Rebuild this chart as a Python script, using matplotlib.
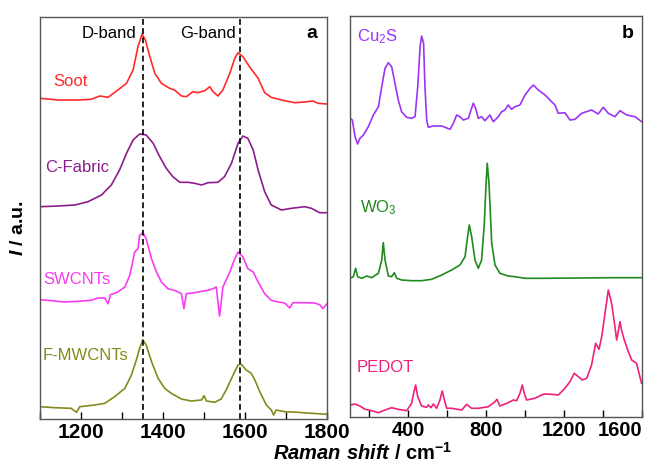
import matplotlib
matplotlib.use('agg')
import matplotlib.pyplot as plt
from matplotlib.ticker import MultipleLocator

plt.rcParams['font.family'] = ['Liberation Sans', 'DejaVu Sans']
plt.rcParams['mathtext.fontset'] = 'custom'
plt.rcParams['mathtext.rm'] = 'Liberation Sans'
plt.rcParams['mathtext.it'] = 'Liberation Sans:italic:bold'
plt.rcParams['mathtext.bf'] = 'Liberation Sans:bold'

# ---- panel a: carbon materials (intensity already stacked, a.u.) ----
soot_x = [1100, 1144, 1193, 1225, 1246, 1266, 1290, 1311, 1327, 1339, 1349, 1357, 1368,
          1380, 1396, 1416, 1428, 1445, 1457, 1473, 1485, 1502, 1514, 1522, 1534, 1546,
          1563, 1575, 1583, 1595, 1611, 1632, 1648, 1664, 1689, 1721, 1746, 1766, 1778, 1800]
soot_y = [320.7, 319, 319, 319.7, 323, 321.7, 329, 335.7, 349, 372.3, 385, 379, 362.3,
          345.7, 335.7, 330.7, 329, 323, 322.3, 327.3, 326.3, 328.3, 332.3, 327.3, 323, 329,
          345.7, 360.7, 366.3, 362.3, 352.3, 340.7, 326.3, 321.7, 319, 316.3, 317, 318, 315.7, 315]

cfab_x = [1100, 1144, 1185, 1217, 1250, 1274, 1294, 1311, 1327, 1343, 1359, 1376, 1392,
          1408, 1424, 1441, 1461, 1477, 1494, 1510, 1534, 1550, 1567, 1583, 1595, 1607,
          1620, 1632, 1648, 1664, 1689, 1713, 1746, 1762, 1782, 1800]
cfab_y = [212.3, 213, 214, 217.3, 224, 234, 249, 265.7, 279, 285, 284, 275.7, 262.3,
          250.7, 242.3, 236.7, 236.7, 235.7, 234, 236.3, 236.7, 242.3, 255.7, 275.7, 283, 280.7,
          269, 249, 227.3, 214, 209, 210.7, 212.3, 210.7, 206.3, 206.3]

swcnt_x = [1100, 1128, 1160, 1193, 1225, 1241, 1258, 1266, 1272, 1290, 1307, 1319, 1331,
           1339, 1343, 1351, 1359, 1372, 1384, 1396, 1412, 1428, 1445, 1451, 1457, 1477,
           1494, 1510, 1522, 1530, 1534, 1538, 1542, 1546, 1563, 1575, 1583, 1595, 1607,
           1620, 1632, 1648, 1664, 1681, 1697, 1709, 1717, 1746, 1770, 1782, 1790, 1800]
swcnt_y = [119.3, 118.3, 117, 117.7, 118.7, 121, 121, 115.3, 124.3, 127, 132, 143.7, 167,
           170.3, 183.7, 186.3, 180.3, 160.3, 147, 137, 130.3, 128.7, 125.3, 110.3, 125.3, 126.3,
           127.7, 128.7, 130.3, 132, 117, 103, 117, 132, 147, 160.3, 167, 162, 150.3,
           147, 137, 125.3, 118.7, 117, 116, 111, 116.3, 116.3, 116, 114.3, 110.3, 115.3]

fmw_x = [1100, 1136, 1176, 1189, 1197, 1233, 1258, 1282, 1307, 1323, 1335, 1343, 1351,
         1359, 1372, 1388, 1404, 1420, 1445, 1469, 1494, 1500, 1506, 1526, 1542, 1554,
         1571, 1583, 1591, 1603, 1615, 1624, 1636, 1652, 1664, 1670, 1676, 1697, 1729, 1762, 1800]
fmw_y = [12.3, 11.3, 10.7, 6.7, 12.3, 14, 15.7, 22.3, 30.7, 44, 59, 70.7, 79,
         74, 57.3, 40.7, 30.7, 25.7, 20, 18, 19, 23.3, 18, 16.7, 20, 29,
         44, 54, 54.7, 49, 45.7, 39, 27.3, 14, 9, 4, 9, 7.3, 6.7, 5.7, 4.7]

carbon_names = ['Soot', 'C-Fabric', 'SWCNTs', 'F-MWCNTs']
carbon_label_x = [1132, 1112, 1107, 1107]
carbon_label_y = [338, 251, 139, 63]
carbon_colors = ['#ff2b2b', '#8c1c8c', '#f83cf2', '#858a1c']
band_pos = [1350, 1589]

# ---- panel b: Cu2S, WO3, PEDOT ----
cu2s_x = [100, 112, 126, 139, 151, 169, 194, 220, 246, 263, 280, 297, 314, 331, 348,
          365, 391, 417, 434, 448, 460, 468, 478, 485, 494, 502, 528, 571, 588, 614,
          631, 648, 665, 682, 708, 733, 745, 759, 776, 793, 819, 836, 862, 879, 896,
          913, 930, 947, 973, 999, 1025, 1042, 1067, 1102, 1127, 1153, 1170, 1204, 1230,
          1256, 1290, 1341, 1375, 1401, 1427, 1461, 1487, 1521, 1564, 1598]
cu2s_y = [298.7, 297, 280.3, 273, 278.7, 282, 290.3, 302, 310.3, 330.3, 348.7, 354.3, 350.3,
          333.7, 317, 305.3, 299.7, 298.7, 300.3, 330.3, 370.3, 381, 373.7, 330.3, 297, 289.7,
          291, 291, 289.7, 287.7, 293.7, 302, 300.3, 297, 298.7, 313.7, 308.7, 298.7, 300.3,
          296.3, 302, 295.3, 300.3, 305.3, 307, 312, 307.7, 310.3, 312, 322, 328.7, 332,
          327, 322, 317, 312, 303.7, 304.3, 297, 297.7, 303.7, 307, 303, 309.7, 303.7,
          300.3, 306.3, 302, 300.3, 295.3]

wo3_x = [100, 117, 129, 139, 160, 186, 211, 246, 263, 271, 280, 297, 314, 328, 340, 365,
         417, 468, 519, 571, 622, 665, 691, 704, 713, 725, 742, 759, 776, 790, 799, 805,
         814, 828, 845, 870, 913, 947, 999, 1102, 1273, 1444, 1598]
wo3_y = [138.7, 140.3, 148.7, 140.3, 138.7, 141, 139.3, 143.7, 157, 174.3, 157, 141, 140.3,
         144.3, 138.7, 137, 136.3, 136.3, 137.7, 142, 147, 152, 160.3, 180.3, 192, 180.3,
         157, 148.7, 157, 193.7, 233.7, 253.7, 233.7, 173.7, 152, 143.7, 141, 140.3, 138.7,
         138.7, 139, 139.3, 139.3]

pedot_x = [100, 126, 151, 177, 211, 246, 280, 314, 348, 391, 417, 425, 437, 448, 468, 494,
           502, 516, 528, 545, 562, 574, 585, 597, 622, 674, 699, 725, 759, 811, 845, 855,
           870, 913, 939, 956, 973, 985, 995, 1007, 1050, 1084, 1098, 1136, 1170, 1204,
           1230, 1252, 1273, 1293, 1316, 1341, 1362, 1379, 1393, 1410, 1427, 1444, 1461,
           1470, 1487, 1495, 1509, 1530, 1547, 1572, 1589, 1598]
pedot_y = [12, 13, 11, 7.7, 6.3, 4.3, 7, 9.3, 7.7, 6.3, 13.7, 22, 32, 20.3, 11, 9.7,
           12, 9.3, 13, 8.7, 17, 26, 17, 8.7, 8.7, 7, 12.7, 8.7, 8.7, 10.3, 15.3, 17.7,
           11, 14.3, 17, 16.3, 23.7, 32, 23.7, 17, 18.7, 22, 23, 22.7, 22, 28.7,
           35.3, 43.7, 40.3, 37, 38.7, 52, 73.7, 67.7, 80.3, 103.7, 127, 113.7, 90.3,
           77, 95.3, 87, 77, 65.3, 57, 53.7, 40.3, 33.7]

other_names = [r'Cu$_\mathregular{2}$S', r'WO$_\mathregular{3}$', 'PEDOT']
other_label_x = [136, 151, 136]
other_label_y = [380, 209, 50]
other_colors = ['#9b35f5', '#1f8a1f', '#f0207c']

ticks_a = [1200, 1400, 1600, 1800]
ticks_b = [400, 800, 1200, 1600]

fig = plt.figure(figsize=(6.55, 4.66), dpi=100)
ax1 = fig.add_axes([40 / 655, 47 / 466, 287 / 655, 402 / 466])
ax2 = fig.add_axes([350 / 655, 49 / 466, 292 / 655, 401 / 466])

carbon = [(soot_x, soot_y), (cfab_x, cfab_y), (swcnt_x, swcnt_y), (fmw_x, fmw_y)]
for (x, y), name, lx, ly, c in zip(carbon, carbon_names, carbon_label_x,
                                    carbon_label_y, carbon_colors):
    ax1.plot(x, y, color=c, lw=1.2)
    ax1.text(lx, ly, name, color=c, fontsize=12, va='center', ha='left')
for b in band_pos:
    ax1.axvline(b, color='black', ls=(0, (3.5, 2)), lw=1.2)
ax1.text(1335, 386, 'D-band', fontsize=12, ha='right', va='center')
ax1.text(1578, 386, 'G-band', fontsize=12, ha='right', va='center')
ax1.text(1762, 386, 'a', fontsize=14, fontweight='bold', ha='center', va='center')
ax1.set_xlim(1100, 1800)
ax1.set_ylim(0, 402)
ax1.set_xticks(ticks_a)
ax1.set_xticklabels([str(t) for t in ticks_a], fontsize=15, fontweight='bold')
ax1.xaxis.set_minor_locator(MultipleLocator(100))

others = [(cu2s_x, cu2s_y), (wo3_x, wo3_y), (pedot_x, pedot_y)]
for (x, y), name, lx, ly, c in zip(others, other_names, other_label_x,
                                    other_label_y, other_colors):
    ax2.plot(x, y, color=c, lw=1.2)
    ax2.text(lx, ly, name, color=c, fontsize=12, va='center', ha='left')
ax2.text(1528, 384, 'b', fontsize=14, fontweight='bold', ha='center', va='center')
ax2.set_xlim(100, 1600)
ax2.set_ylim(0, 401)
ax2.set_xticks(ticks_b)
ax2.set_xticklabels([str(t) for t in ticks_b], fontsize=14.5, fontweight='bold')
ax2.get_xticklabels()[-1].set_horizontalalignment('right')
ax2.xaxis.set_minor_locator(MultipleLocator(200))

for ax in (ax1, ax2):
    ax.set_yticks([])
    ax.tick_params(axis='x', which='both', direction='in', top=False)
    ax.tick_params(axis='x', which='major', length=5, width=1, pad=3)
    ax.tick_params(axis='x', which='minor', length=5, width=1)
    for s in ax.spines.values():
        s.set_color('#555555')
        s.set_linewidth(1)

fig.text(0.028, 0.51, r'$I$ / a.u.', rotation=90, fontsize=14, fontweight='bold',
         ha='center', va='center')
fig.text(0.553, 0.004, r'$Raman\ shift$ / cm$^\mathregular{-1}$', fontsize=14.5,
         fontweight='bold', ha='center', va='bottom')

fig.savefig('out.png', dpi=100)
